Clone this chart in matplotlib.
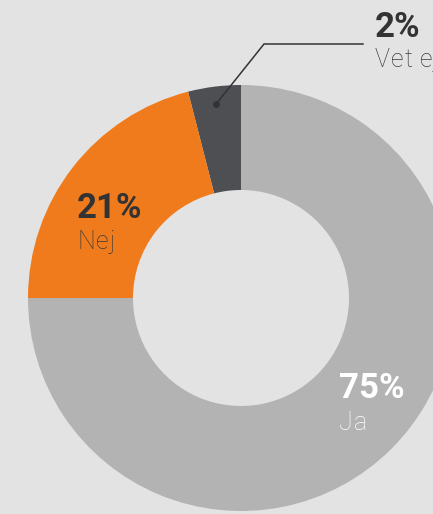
import numpy as np
import matplotlib
matplotlib.use("Agg")
import matplotlib.pyplot as plt
from matplotlib.font_manager import FontProperties

categories = ["Ja", "Nej", "Vet ej"]
shares = [75, 21, 4]               # wedge sizes as drawn
pct_labels = ["75%", "21%", "2%"]  # printed labels
colors = ["#b3b3b3", "#f07b1c", "#4d4f52"]

W, H = 433, 514
fig = plt.figure(figsize=(W / 100, H / 100), dpi=100)
fig.patch.set_facecolor("#e3e3e3")
ax = fig.add_axes([0, 0, 1, 1])
ax.set_facecolor("#e3e3e3")

cx, cy, R = 241, H - 298, 213
order = [2, 1, 0]  # Vet ej, Nej, Ja counterclockwise from top
wedges, _ = ax.pie([shares[i] for i in order], colors=[colors[i] for i in order],
                   startangle=90, counterclock=True, center=(cx, cy), radius=R,
                   wedgeprops=dict(width=R - 108, linewidth=0))
ax.set_xlim(0, W)
ax.set_ylim(0, H)
ax.set_aspect("auto")
ax.axis("off")

fam = ["Roboto", "DejaVu Sans"]
renderer = fig.canvas.get_renderer()


def tracked(x, y, s, size, weight, color, track):
    prop = FontProperties(family="Roboto", size=size, weight=weight)
    bar_w = renderer.get_text_width_height_descent("|", prop, ismath=False)[0]
    for i, ch in enumerate(s):
        if i == 0:
            off = 0.0
        else:
            off = renderer.get_text_width_height_descent(s[:i] + "|", prop, ismath=False)[0] - bar_w
        if ch.strip():
            ax.text(x + off + i * track, y, ch, fontproperties=prop, color=color,
                    va="baseline", ha="left")


BIG = 25
SMALL = 18
TR = 1.0
# Nej
ax.text(77, H - 218, pct_labels[1], fontsize=BIG, fontweight="bold", color="#333333",
        family=fam, va="baseline", ha="left")
tracked(77, H - 249, categories[1], SMALL, "light", "#3a3a3a", TR)
# Ja
ax.text(339, H - 398, pct_labels[0], fontsize=BIG, fontweight="bold", color="white",
        family=fam, va="baseline", ha="left")
tracked(339, H - 430, categories[0], SMALL, "light", "white", TR)
# Vet ej with leader
ax.text(375, H - 37, pct_labels[2], fontsize=BIG, fontweight="bold", color="#333333",
        family=fam, va="baseline", ha="left")
tracked(375, H - 67, categories[2], SMALL, "light", "#3a3a3a", TR)
w = wedges[0]
mid = np.deg2rad((w.theta1 + w.theta2) / 2)
rr = 0.92 * R
px, py = cx + rr * np.cos(mid), cy + rr * np.sin(mid)
ax.plot([px, 264, 363], [py, H - 44, H - 44], color="#333333", lw=1.1,
        solid_joinstyle="miter")
ax.plot([px], [py], "o", color="#333333", ms=4)

fig.savefig("out.png", dpi=100, facecolor=fig.get_facecolor())
